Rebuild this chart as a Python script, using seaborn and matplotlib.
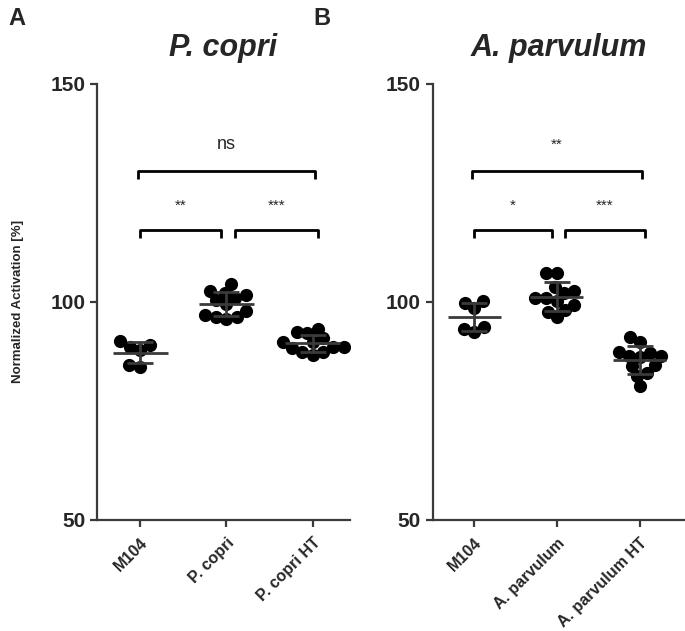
import numpy as np
import pandas as pd
import matplotlib
matplotlib.use("Agg")
import matplotlib.pyplot as plt
import seaborn as sns

# values (Normalized Activation [%])
copri_groups = ["M104", "P. copri", "P. copri HT"]
copri_m104 = [91.0, 90.1, 89.7, 89.0, 85.1, 85.5]
copri_live = [104.0, 102.5, 102.0, 101.5, 101.0, 100.5, 99.5, 98.0, 97.0, 96.5, 96.0, 96.5]
copri_ht = [93.8, 93.1, 92.9, 90.8, 91.7, 90.8, 88.5, 87.8, 88.5, 89.7, 89.7, 89.4]

parv_groups = ["M104", "A. parvulum", "A. parvulum HT"]
parv_m104 = [99.7, 100.1, 98.6, 94.3, 93.2, 93.8]
parv_live = [106.7, 106.7, 102.4, 103.5, 102.0, 100.1, 100.8, 100.8, 98.2, 97.8, 99.3, 96.5]
parv_ht = [91.9, 90.8, 87.5, 88.6, 88.2, 87.3, 85.5, 85.2, 83.8, 83.0, 80.7, 87.5]

# significance: (group i, group j, label)
copri_sig = [(0, 1, "**"), (1, 2, "***"), (0, 2, "ns")]
parv_sig = [(0, 1, "*"), (1, 2, "***"), (0, 2, "**")]

sns.set_style("ticks")
plt.rcParams["font.family"] = ["Liberation Sans", "DejaVu Sans"]

FONT = ["Liberation Sans Narrow", "Liberation Sans", "DejaVu Sans"]
DARK = "#3a3a3a"


def make_frame(groups, values):
    rows = []
    for g, vals in zip(groups, values):
        for v in vals:
            rows.append({"group": g, "value": v})
    return pd.DataFrame(rows)


def draw_panel(ax, groups, values, sig, title, xlim):
    df = make_frame(groups, values)
    sns.swarmplot(data=df, x="group", y="value", order=groups, color="black",
                  size=7.5, ax=ax, zorder=2)

    stats = df.groupby("group")["value"].agg(["mean", "std"]).reindex(groups)
    xs = np.arange(len(groups))
    ax.hlines(stats["mean"], xs - 0.32, xs + 0.32, color=DARK, lw=2, zorder=3)
    ax.errorbar(xs, stats["mean"], yerr=stats["std"], fmt="none", ecolor=DARK,
                elinewidth=2, capsize=9.5, capthick=2, zorder=3)

    # brackets
    for i, j, lab in sig:
        if j - i == 2:
            y, x0, x1 = 130, i - 0.03, j + 0.03
            ty = 136
            fs = 13 if lab == "ns" else 11
        else:
            y = 116.5
            x0 = i + (0.0 if i == 0 else 0.1)
            x1 = j - (0.06 if i == 0 else -0.06)
            ty = 122
            fs = 11
        ax.plot([x0, x0, x1, x1], [y - 1.8, y, y, y - 1.8], color="black",
                lw=2, solid_capstyle="butt", clip_on=False)
        ax.text((x0 + x1) / 2, ty, lab, ha="center", va="center",
                fontsize=fs, family=FONT)

    ax.set_ylim(50, 150)
    ax.set_xlim(*xlim)
    ax.set_yticks([50, 100, 150])
    ax.set_yticklabels(["50", "100", "150"], fontsize=15, fontweight="bold",
                       family=FONT)
    ax.set_xticks(xs)
    ax.set_xticklabels(groups, rotation=45, ha="right", rotation_mode="anchor",
                       fontsize=11.5, fontweight="bold", family=FONT)
    ax.set_xlabel("")
    ax.set_ylabel("")
    sns.despine(ax=ax)
    for sp in ["left", "bottom"]:
        ax.spines[sp].set_color(DARK)
        ax.spines[sp].set_linewidth(1.6)
    ax.tick_params(axis="both", color=DARK, width=1.6, length=5)
    ax.tick_params(axis="x", pad=6)
    ax.set_title(title, fontsize=22, fontweight="bold", style="italic",
                 family=FONT, pad=20)


fig = plt.figure(figsize=(6.85, 6.31), dpi=100)
ax1 = fig.add_axes([0.1416, 0.176, 0.369, 0.691])
ax2 = fig.add_axes([0.632, 0.176, 0.368, 0.691])

draw_panel(ax1, copri_groups, [copri_m104, copri_live, copri_ht], copri_sig,
           "P. copri", (-0.5, 2.43))
draw_panel(ax2, parv_groups, [parv_m104, parv_live, parv_ht], parv_sig,
           "A. parvulum", (-0.5, 2.55))

ax1.set_ylabel("Normalized Activation [%]", fontsize=9.5, fontweight="bold",
               family=FONT)
ax1.yaxis.set_label_coords(-0.29, 0.5)

fig.text(0.012, 0.97, "A", fontsize=17, fontweight="bold", va="center", family=FONT)
fig.text(0.458, 0.97, "B", fontsize=17, fontweight="bold", va="center", family=FONT)

# lay the swarms out with smaller dots, freeze those positions, then enlarge the
# dots so they overlap into tight clusters like the original
fig.canvas.draw()
for ax in (ax1, ax2):
    for coll in ax.collections[:3]:
        if "draw" in coll.__dict__:
            del coll.draw
        coll.set_sizes([9.5 ** 2])

fig.savefig("out.png", dpi=100)
